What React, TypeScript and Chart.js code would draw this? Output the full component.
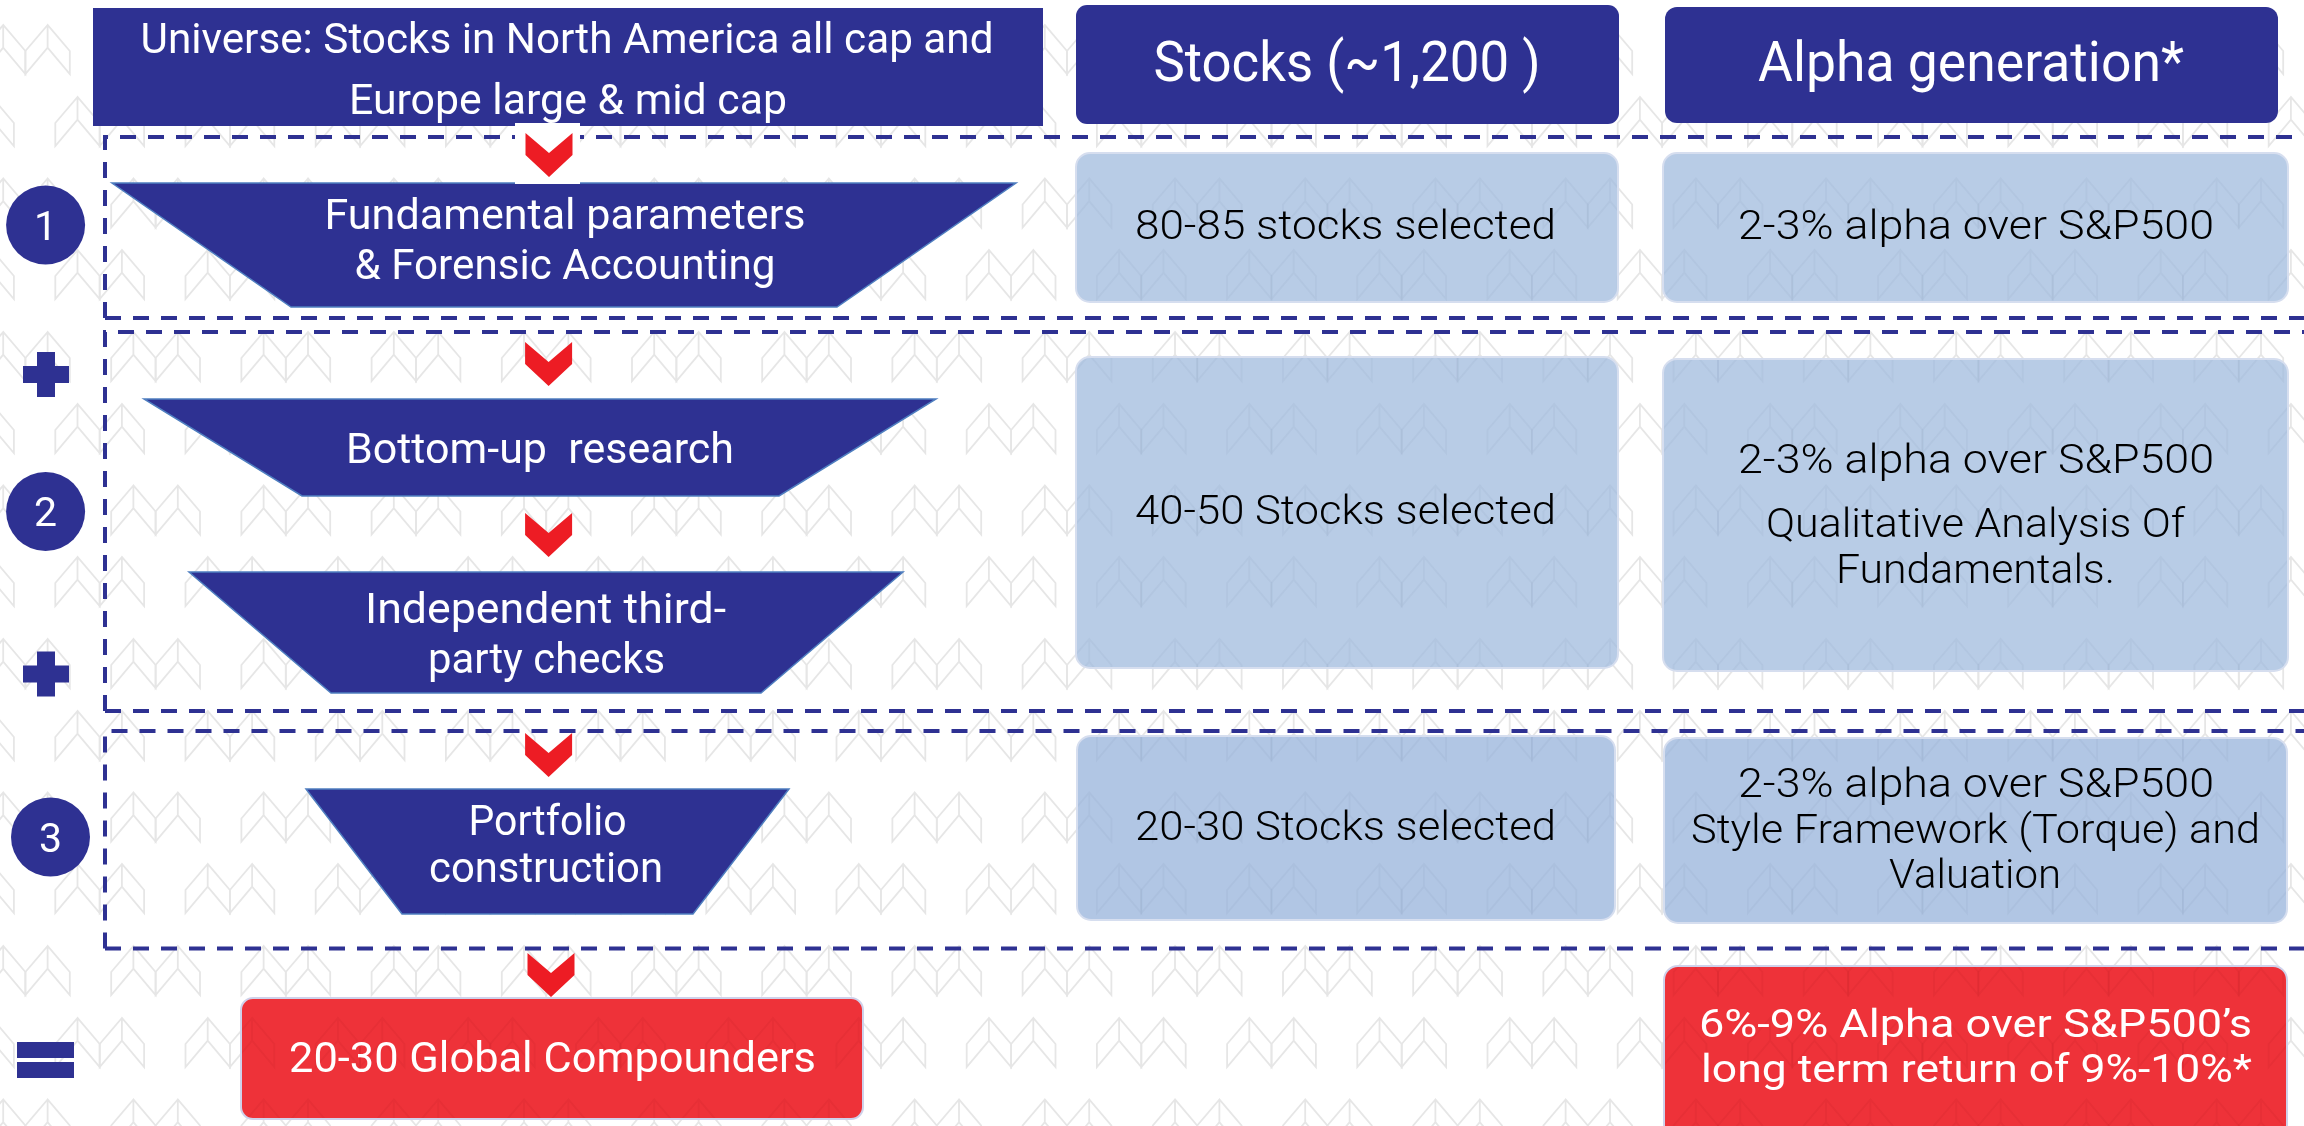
import React, { useEffect, useRef } from "react";
import { Chart, registerables } from "chart.js";

Chart.register(...registerables);

const W = 2304;
const H = 1126;

// ---------- content ----------
const universeLines = ["Universe: Stocks in North America all cap and", "Europe large & mid cap"];
const columnTitles = ["Stocks (~1,200 )", "Alpha generation*"];
const stepNumbers = ["1", "2", "3"];
const funnelLabels = [
  ["Fundamental parameters", "& Forensic Accounting"],
  ["Bottom-up  research"],
  ["Independent third-", "party checks"],
  ["Portfolio", "construction"],
];
const stockLabels = ["80-85 stocks selected", "40-50 Stocks selected", "20-30 Stocks selected"];
const alphaLabels = [
  ["2-3% alpha over S&P500"],
  ["2-3% alpha over S&P500", "Qualitative Analysis Of", "Fundamentals."],
  ["2-3% alpha over S&P500", "Style Framework (Torque) and", "Valuation"],
];
const resultLabel = "20-30 Global Compounders";
const resultAlpha = ["6%-9% Alpha over S&P500\u2019s", "long term return of 9%-10%*"];

// ---------- layout (diagram units = pixels of the reference) ----------
const NAVY = "#2E3192";
const RED = "#EE3239";
const ARROW_RED = "#ED1C24";
const FONT = 'Roboto, "Noto Sans", sans-serif';

const universeBox = { x0: 93, x1: 1043, y0: 8, y1: 126, r: 0 };
const titleBoxes = [
  { x0: 1076, x1: 1619, y0: 5, y1: 124, r: 11 },
  { x0: 1665, x1: 2278, y0: 7, y1: 123, r: 12 },
];
const universePos = [
  { cx: 567, base: 53, w: 853 },
  { cx: 568, base: 114, w: 438 },
];
const titlePos = [
  { cx: 1347, base: 81, w: 387 },
  { cx: 1971, base: 81, w: 426 },
];

const dashedBoxes = [
  { x0: 105, x1: 2330, y0: 137, y1: 318 },
  { x0: 105, x1: 2330, y0: 332, y1: 711 },
  { x0: 105, x1: 2330, y0: 731, y1: 948.5 },
];

const stepCircles = [
  { x: 45.6, y: 225 },
  { x: 45.6, y: 511.5 },
  { x: 50.5, y: 837 },
];

const funnels = [
  { tl: 112, tr: 1016, bl: 291, br: 837, top: 183, bottom: 307 },
  { tl: 144, tr: 936, bl: 302, br: 779, top: 399, bottom: 496 },
  { tl: 189, tr: 903, bl: 331, br: 761, top: 572, bottom: 693 },
  { tl: 306, tr: 789, bl: 402, br: 693, top: 789, bottom: 914 },
];
const funnelPos = [
  [{ cx: 565, base: 229, w: 481 }, { cx: 565, base: 279, w: 421 }],
  [{ cx: 540, base: 463, w: 388 }],
  [{ cx: 545.5, base: 623, w: 361 }, { cx: 546.5, base: 673, w: 237 }],
  [{ cx: 547.5, base: 835, w: 158 }, { cx: 546, base: 882, w: 234 }],
];

const arrows = [
  { cx: 549, top: 133 },
  { cx: 548.6, top: 342 },
  { cx: 548.6, top: 513 },
  { cx: 548.6, top: 733 },
  { cx: 551, top: 953 },
];
const arrowMask = { x0: 515, x1: 580, y0: 123, y1: 184 };

const stockBoxes = [
  { x0: 1076, x1: 1618, y0: 153, y1: 302, fill: "#B8CCE6" },
  { x0: 1076, x1: 1618, y0: 357, y1: 668, fill: "#B8CCE6" },
  { x0: 1077, x1: 1615, y0: 736, y1: 920, fill: "#B1C6E4" },
];
const alphaBoxes = [
  { x0: 1663, x1: 2288, y0: 153, y1: 302, fill: "#B8CCE6" },
  { x0: 1663, x1: 2288, y0: 359, y1: 671, fill: "#B8CCE6" },
  { x0: 1664, x1: 2287, y0: 738, y1: 923, fill: "#B1C6E4" },
];
const stockPos = [
  { cx: 1345.5, base: 239, w: 421 },
  { cx: 1345.5, base: 524, w: 421 },
  { cx: 1345.5, base: 840, w: 421 },
];
const alphaPos = [
  [{ cx: 1976, base: 239, w: 476 }],
  [{ cx: 1976, base: 473, w: 476 }, { cx: 1975.5, base: 537, w: 419 }, { cx: 1975.5, base: 583, w: 279 }],
  [{ cx: 1976, base: 797, w: 476 }, { cx: 1975.5, base: 843, w: 569 }, { cx: 1975, base: 888, w: 172 }],
];

const resultBox = { x0: 241, x1: 863, y0: 998, y1: 1119 };
const resultPos = { cx: 552.5, base: 1072, w: 527 };
const resultAlphaBox = { x0: 1664, x1: 2287, y0: 966, y1: 1140 };
const resultAlphaPos = [
  { cx: 1975.5, base: 1037, w: 553 },
  { cx: 1976.5, base: 1082, w: 551 },
];

const plusSigns = [
  { cx: 46, cy: 374.5 },
  { cx: 46, cy: 674 },
];
const equalsSign = { x0: 17, x1: 74, bars: [[1042, 1058], [1062, 1078]] };

// background motif rows
const motifRowTops = [25, 97, 178.5, 250, 332, 404, 485.5, 557, 639, 711, 792.5, 864, 946, 1018, 1099.5];
const motifRowOffsets = [-19, 55.3];
const motifPeriod = 130.2;

const diagramPlugin = {
  id: "diagram",
  beforeDatasetsDraw(chart: any) {
    const ctx: CanvasRenderingContext2D = chart.ctx;
    const xs = chart.scales.x;
    const ys = chart.scales.y;
    const px = (v: number) => xs.getPixelForValue(v);
    const py = (v: number) => ys.getPixelForValue(v);

    const text = (t: string, p: { cx: number; base: number; w: number }, size: number, weight: number, color: string) => {
      ctx.save();
      ctx.font = `${weight} ${size}px ${FONT}`;
      ctx.fillStyle = color;
      ctx.textAlign = "center";
      ctx.textBaseline = "alphabetic";
      const m = ctx.measureText(t).width;
      const target = px(p.cx + p.w / 2) - px(p.cx - p.w / 2);
      ctx.translate(px(p.cx), py(p.base));
      ctx.scale(target / m, 1);
      ctx.fillText(t, 0, 0);
      ctx.restore();
    };

    const motifs = (stroke: string, lw: number) => {
      const a = 22.2;
      ctx.save();
      ctx.strokeStyle = stroke;
      ctx.lineWidth = lw;
      ctx.lineJoin = "miter";
      motifRowTops.forEach((ty, i) => {
        const off = motifRowOffsets[i % 2];
        for (let k = -1; k < 19; k++) {
          const lx = off + k * motifPeriod;
          for (const peak of [lx + a, lx + 3 * a]) {
            ctx.beginPath();
            ctx.moveTo(px(peak), py(ty));
            ctx.lineTo(px(peak - a), py(ty + 26));
            ctx.lineTo(px(peak - a), py(ty + 49));
            ctx.lineTo(px(peak), py(ty + 22.7));
            ctx.lineTo(px(peak + a), py(ty + 49));
            ctx.lineTo(px(peak + a), py(ty + 26));
            ctx.closePath();
            ctx.moveTo(px(peak), py(ty));
            ctx.lineTo(px(peak), py(ty + 22.7));
            ctx.stroke();
          }
        }
      });
      ctx.restore();
    };

    const rrect = (b: { x0: number; x1: number; y0: number; y1: number }, r: number) => {
      ctx.beginPath();
      const x = px(b.x0), y = py(b.y0);
      const w = px(b.x1) - x, h = py(b.y1) - y;
      if (r > 0) (ctx as any).roundRect(x, y, w, h, r);
      else ctx.rect(x, y, w, h);
    };

    const softBox = (b: any, r: number, fill: string, border: string, overlay: string) => {
      ctx.save();
      rrect(b, r);
      ctx.fillStyle = fill;
      ctx.fill();
      ctx.clip();
      motifs(overlay, 1.8);
      ctx.restore();
      ctx.save();
      rrect(b, r);
      ctx.strokeStyle = border;
      ctx.lineWidth = 2;
      ctx.stroke();
      ctx.restore();
    };

    // white page and background motif
    ctx.save();
    ctx.fillStyle = "#FFFFFF";
    ctx.fillRect(px(0), py(0), px(W) - px(0), py(H) - py(0));
    ctx.restore();
    motifs("#E6E6E6", 1.8);

    // dashed section frames
    ctx.save();
    ctx.strokeStyle = NAVY;
    ctx.lineWidth = 4;
    ctx.setLineDash([16, 12]);
    dashedBoxes.forEach((d) => {
      ctx.beginPath();
      ctx.moveTo(px(d.x0), py(d.y1));
      ctx.lineTo(px(d.x0), py(d.y0));
      ctx.lineTo(px(d.x1), py(d.y0));
      ctx.stroke();
      ctx.beginPath();
      ctx.moveTo(px(d.x0), py(d.y1));
      ctx.lineTo(px(d.x1), py(d.y1));
      ctx.stroke();
    });
    ctx.restore();

    // header boxes
    ctx.save();
    ctx.fillStyle = NAVY;
    rrect(universeBox, 0);
    ctx.fill();
    titleBoxes.forEach((b) => {
      rrect(b, b.r);
      ctx.fill();
    });
    ctx.restore();

    // light blue info boxes
    stockBoxes.forEach((b) => softBox(b, 14, b.fill, "#D6DEEF", "rgba(90,100,140,0.06)"));
    alphaBoxes.forEach((b) => softBox(b, 14, b.fill, "#D6DEEF", "rgba(90,100,140,0.06)"));

    // red result boxes
    softBox(resultBox, 12, RED, "#CFD1EA", "rgba(120,0,20,0.06)");
    softBox(resultAlphaBox, 14, RED, "#CFD1EA", "rgba(120,0,20,0.06)");

    // funnel trapezoids
    funnels.forEach((f) => {
      ctx.save();
      ctx.beginPath();
      ctx.moveTo(px(f.tl), py(f.top));
      ctx.lineTo(px(f.tr), py(f.top));
      ctx.lineTo(px(f.br), py(f.bottom));
      ctx.lineTo(px(f.bl), py(f.bottom));
      ctx.closePath();
      ctx.fillStyle = NAVY;
      ctx.fill();
      ctx.strokeStyle = "#4F7FC0";
      ctx.lineWidth = 1.5;
      ctx.stroke();
      ctx.restore();
    });

    // white mask behind first arrow
    ctx.save();
    ctx.fillStyle = "#FFFFFF";
    rrect(arrowMask, 0);
    ctx.fill();
    ctx.restore();

    // red chevron arrows
    arrows.forEach((a) => {
      const hw = 23.5;
      ctx.save();
      ctx.beginPath();
      ctx.moveTo(px(a.cx - hw), py(a.top));
      ctx.lineTo(px(a.cx), py(a.top + 20));
      ctx.lineTo(px(a.cx + hw), py(a.top));
      ctx.lineTo(px(a.cx + hw), py(a.top + 22));
      ctx.lineTo(px(a.cx), py(a.top + 44));
      ctx.lineTo(px(a.cx - hw), py(a.top + 22));
      ctx.closePath();
      ctx.fillStyle = ARROW_RED;
      ctx.fill();
      ctx.restore();
    });

    // plus and equals signs
    ctx.save();
    ctx.fillStyle = NAVY;
    plusSigns.forEach((p) => {
      ctx.fillRect(px(p.cx - 23), py(p.cy - 8.5), px(p.cx + 23) - px(p.cx - 23), py(p.cy + 8.5) - py(p.cy - 8.5));
      ctx.fillRect(px(p.cx - 9), py(p.cy - 22.5), px(p.cx + 9) - px(p.cx - 9), py(p.cy + 22.5) - py(p.cy - 22.5));
    });
    equalsSign.bars.forEach(([y0, y1]) => {
      ctx.fillRect(px(equalsSign.x0), py(y0), px(equalsSign.x1) - px(equalsSign.x0), py(y1) - py(y0));
    });
    ctx.restore();

    // texts
    universeLines.forEach((t, i) => text(t, universePos[i], 42, 400, "#FFFFFF"));
    columnTitles.forEach((t, i) => text(t, titlePos[i], 55, 400, "#FFFFFF"));
    funnelLabels.forEach((lines, i) => lines.forEach((t, j) => text(t, funnelPos[i][j], 42, 400, "#FFFFFF")));
    stockLabels.forEach((t, i) => text(t, stockPos[i], 40, 300, "#000000"));
    alphaLabels.forEach((lines, i) => lines.forEach((t, j) => text(t, alphaPos[i][j], 40, 300, "#000000")));
    text(resultLabel, resultPos, 42, 400, "#FFFFFF");
    resultAlpha.forEach((t, i) => text(t, resultAlphaPos[i], 38, 400, "#FFFFFF"));
  },
  afterDatasetsDraw(chart: any) {
    const ctx: CanvasRenderingContext2D = chart.ctx;
    const xs = chart.scales.x;
    const ys = chart.scales.y;
    ctx.save();
    ctx.font = `400 41px ${FONT}`;
    ctx.fillStyle = "#FFFFFF";
    ctx.textAlign = "center";
    ctx.textBaseline = "alphabetic";
    stepNumbers.forEach((n, i) => {
      ctx.fillText(n, xs.getPixelForValue(stepCircles[i].x), ys.getPixelForValue(stepCircles[i].y + 14.5));
    });
    ctx.restore();
  },
};

export default function App() {
  const ref = useRef<HTMLCanvasElement | null>(null);
  useEffect(() => {
    if (!ref.current) return;
    const chart = new Chart(ref.current, {
      type: "scatter",
      data: {
        datasets: [
          {
            label: "steps",
            data: stepCircles.map((c) => ({ x: c.x, y: c.y })),
            pointRadius: 39.5,
            pointHoverRadius: 39.5,
            backgroundColor: NAVY,
            borderColor: NAVY,
            borderWidth: 0,
            clip: false,
          },
        ],
      },
      options: {
        responsive: false,
        animation: false,
        devicePixelRatio: 1,
        events: [],
        layout: { padding: 0, autoPadding: false },
        scales: {
          x: { type: "linear", min: 0, max: W, display: false },
          y: { type: "linear", min: 0, max: H, reverse: true, display: false },
        },
        plugins: { legend: { display: false }, tooltip: { enabled: false } },
      },
      plugins: [diagramPlugin],
    } as any);
    return () => chart.destroy();
  }, []);
  return (
    <div style={{ position: "fixed", left: 0, top: 0, width: W, height: H, background: "#fff" }}>
      <canvas ref={ref} width={W} height={H} style={{ display: "block" }} />
    </div>
  );
}
